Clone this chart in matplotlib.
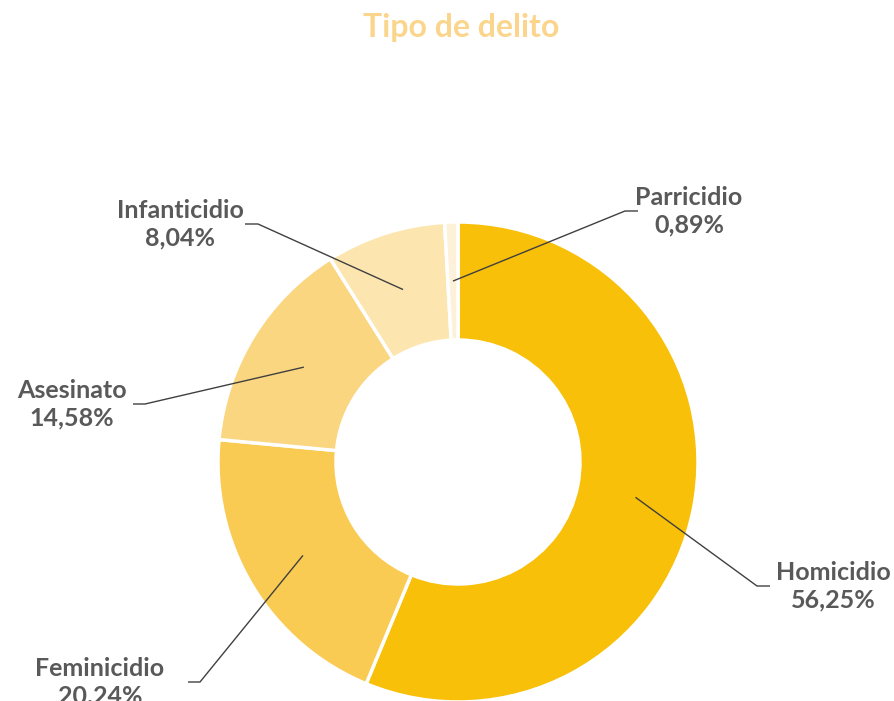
import numpy as np
import matplotlib.pyplot as plt

# DATA ##########################################

categories = ["Homicidio", "Feminicidio", "Asesinato", "Infanticidio", "Parricidio"]
shares = [56.25, 20.24, 14.58, 8.04, 0.89]
pct_labels = ["56,25%", "20,24%", "14,58%", "8,04%", "0,89%"]

colors = ["#F8C008", "#FACB52", "#FBD680", "#FDE5B0", "#FEF1DA"]

# label layout in pixel coords (top-down): elbow x, elbow y, end x, text x
label_layout = {
    "Homicidio": (757, 586, 770, 833),
    "Feminicidio": (200, 682, 188, 100),
    "Asesinato": (145, 404, 133, 72),
    "Infanticidio": (258, 224, 245, 180),
    "Parricidio": (625, 211, 638, 689),
}

# FIGURE ########################################

W, H = 895, 701
fig = plt.figure(figsize=(W / 100, H / 100), dpi=100)
ax = fig.add_axes([0, 0, 1, 1])

cx, cy = 458, H - 462
r_out, r_in = 240, 122

wedges, _ = ax.pie(
    shares,
    colors=colors,
    startangle=90,
    counterclock=False,
    radius=r_out,
    center=(cx, cy),
    wedgeprops=dict(width=r_out - r_in, edgecolor="white", linewidth=2.5),
)

ax.set_xlim(0, W)
ax.set_ylim(0, H)
ax.set_aspect("equal")
ax.axis("off")

label_color = "#595959"
r_mid = (r_out + r_in) / 2

for w, name, pct in zip(wedges, categories, pct_labels):
    ang = np.radians((w.theta1 + w.theta2) / 2)
    ax_x = cx + r_mid * np.cos(ang)
    ax_y = cy + r_mid * np.sin(ang)
    ex, ey, endx, tx = label_layout[name]
    ey = H - ey
    ax.plot([ax_x, ex, endx], [ax_y, ey, ey], color="#404040", lw=1.0,
            solid_capstyle="butt", zorder=5)
    ax.text(tx, ey, f"{name}\n{pct}", ha="center", va="center",
            fontsize=18, fontweight="bold", family="Lato",
            color=label_color, linespacing=1.22, zorder=6)

ax.text(461, H - 28, "Tipo de delito", ha="center", va="center",
        fontsize=23, fontweight="bold", family="Lato", color="#FBD58C")

fig.savefig("out.png", dpi=100, facecolor="white")
